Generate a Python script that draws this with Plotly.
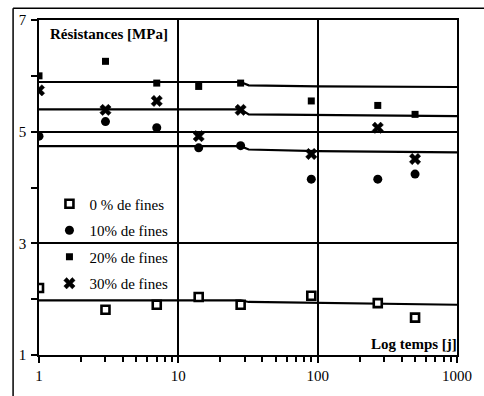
import plotly.graph_objects as go

# Data (time in days, log axis; strength in MPa)
t = [1, 3, 7, 14, 28, 90, 270, 500]
r0 = [2.20, 1.81, 1.90, 2.04, 1.90, 2.06, 1.93, 1.67]
r10 = [4.92, 5.18, 5.07, 4.71, 4.75, 4.15, 4.15, 4.24]
r20 = [6.00, 6.26, 5.87, 5.81, 5.87, 5.55, 5.47, 5.31]
r30 = [5.74, 5.39, 5.55, 4.92, 5.39, 4.60, 5.07, 4.51]

fit_t = [1, 28, 32, 100, 1000]
fit0 = [1.98, 1.98, 1.95, 1.93, 1.90]
fit10 = [4.74, 4.74, 4.68, 4.65, 4.63]
fit20 = [5.89, 5.89, 5.83, 5.81, 5.80]
fit30 = [5.40, 5.40, 5.31, 5.30, 5.28]

names = ["0 % de fines", "10% de fines", "20% de fines", "30% de fines"]

FONT = "Liberation Serif"
fig = go.Figure()

for fy in [fit0, fit10, fit20, fit30]:
    fig.add_trace(go.Scatter(x=fit_t, y=fy, mode="lines",
                             line=dict(color="black", width=2.2),
                             showlegend=False, hoverinfo="skip"))

styles = [
    dict(symbol="square", size=8, color="white", line=dict(color="black", width=2.6)),
    dict(symbol="circle", size=9, color="black"),
    dict(symbol="square", size=7, color="black"),
    dict(symbol="x", size=10, color="black", line=dict(color="black", width=0.5)),
]
for i, (ys, st) in enumerate(zip([r0, r10, r20, r30], styles)):
    fig.add_trace(go.Scatter(x=t, y=ys, mode="markers", name=names[i],
                             marker=st, legendgroup=f"g{i}"))

fig.update_layout(
    width=484, height=396,
    margin=dict(l=39, r=21, t=17, b=31),
    paper_bgcolor="white", plot_bgcolor="white",
    font=dict(family=FONT, size=15, color="black"),
    showlegend=True,
    legend=dict(x=0.025, y=0.50, xanchor="left", yanchor="top",
                bgcolor="rgba(0,0,0,0)", font=dict(family=FONT, size=15),
                tracegroupgap=4, itemwidth=30),
    annotations=[
        dict(text="<b>Résistances [MPa]</b>", xref="paper", yref="paper",
             x=0.022, y=0.957, xanchor="left", yanchor="middle", showarrow=False,
             font=dict(family=FONT, size=15)),
        dict(text="<b>Log temps [j]</b>", xref="paper", yref="paper",
             x=1.004, y=0.032, xanchor="right", yanchor="middle", showarrow=False,
             font=dict(family=FONT, size=15)),
    ],
    shapes=[
        dict(type="line", xref="paper", yref="paper", x0=-0.062, x1=-0.062,
             y0=-0.2, y1=1.035, line=dict(color="black", width=1.5)),
        dict(type="line", xref="paper", yref="paper", x0=-0.062, x1=1.1,
             y0=1.035, y1=1.035, line=dict(color="black", width=1.5)),
    ],
)

fig.update_xaxes(type="log", range=[0, 3], dtick=1, exponentformat="none",
                 tickfont=dict(family=FONT, size=15, color="black"),
                 ticks="outside", ticklen=6, tickwidth=2, tickcolor="#000000",
                 showgrid=True, gridcolor="black", gridwidth=1.5,
                 showline=True, linecolor="black", linewidth=1.5, mirror=True,
                 zeroline=False,
                 minor=dict(ticks="outside", ticklen=5, tickwidth=1.5, dtick="D1",
                            tickcolor="#000000", showgrid=False))
fig.update_yaxes(range=[1, 7], tick0=1, dtick=2,
                 tickfont=dict(family=FONT, size=15, color="black"),
                 ticklabelstandoff=2,
                 ticks="outside", ticklen=6, tickwidth=2, tickcolor="#000000",
                 showgrid=True, gridcolor="black", gridwidth=1.5,
                 showline=True, linecolor="black", linewidth=1.5, mirror=True,
                 zeroline=False,
                 minor=dict(ticks="outside", ticklen=6, tickwidth=2, dtick=1, tick0=1,
                            tickcolor="#000000", showgrid=False))

fig.write_html("out.html")
